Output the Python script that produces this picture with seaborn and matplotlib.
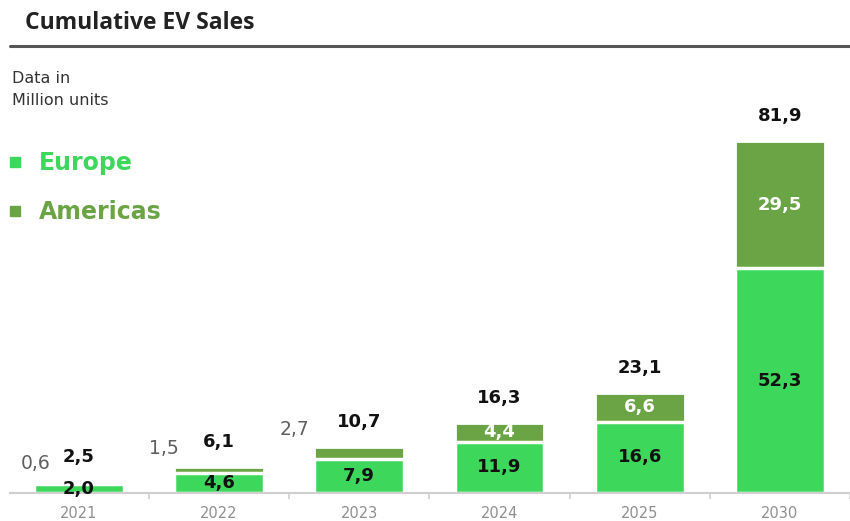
import numpy as np
import seaborn as sns
import matplotlib.pyplot as plt
from matplotlib.lines import Line2D

# Valores (milhões de unidades)
anos = ['2021', '2022', '2023', '2024', '2025', '2030']
europa = [2.0, 4.6, 7.9, 11.9, 16.6, 52.3]
americas = [0.6, 1.5, 2.7, 4.4, 6.6, 29.5]
totais = [2.5, 6.1, 10.7, 16.3, 23.1, 81.9]

cor_europa = '#3dd75b'
cor_americas = '#6aa444'

sns.set_theme(style="white")
plt.rcParams['font.family'] = ['DejaVu Sans']

fig = plt.figure(figsize=(8.5, 5.21), dpi=100)
ax = fig.add_axes([10 / 850, 28 / 521, 840 / 850, 387 / 521])

def fmt(v):
    return f"{v:.1f}".replace('.', ',')

# barra total (cor Américas) e Europa por cima -> empilhado
empilhado = [e + a for e, a in zip(europa, americas)]
sns.barplot(x=anos, y=empilhado, color=cor_americas, saturation=1, width=0.64,
            edgecolor='white', linewidth=2, ax=ax)
sns.barplot(x=anos, y=europa, color=cor_europa, saturation=1, width=0.64,
            edgecolor='white', linewidth=2.5, ax=ax)

ax.set_xlim(-0.49, 5.5)
ax.set_ylim(0, 90)
ax.set_yticks([])
ax.set_xlabel('')
ax.set_ylabel('')
sns.despine(ax=ax, left=True)
ax.spines['bottom'].set_color('#cfcfcf')
ax.spines['bottom'].set_linewidth(1.5)
ax.tick_params(axis='x', which='major', length=0, pad=9, labelsize=10.5, labelcolor='#8f8f8f')
ax.set_xticks(np.arange(len(anos)) + 0.5, minor=True)
ax.tick_params(axis='x', which='minor', length=4, color='#cfcfcf', width=1.2, bottom=True)

# deslocamento horizontal (px) dos rótulos cinzentos das Américas
desloc_am = [-43, -55, -65]

for i in range(len(anos)):
    ax.text(i, europa[i] / 2, fmt(europa[i]), ha='center', va='center',
            fontsize=13, fontweight='bold', color='#111111')
    topo = europa[i] + americas[i]
    ax.annotate(fmt(totais[i]), (i, topo), xytext=(0, 18), textcoords='offset points',
                ha='center', va='center', fontsize=13, fontweight='bold', color='#111111')
    if americas[i] >= 4:
        ax.text(i, europa[i] + americas[i] / 2, fmt(americas[i]), ha='center', va='center',
                fontsize=13, fontweight='bold', color='white')
    else:
        ax.annotate(fmt(americas[i]), (i, topo), xytext=(desloc_am[i] * 0.72, 13),
                    textcoords='offset points', ha='center', va='center',
                    fontsize=13.5, color='#5f5f5f')

# título e linha
fig.text(25 / 850, 1 - 23 / 521, 'Cumulative EV Sales', fontsize=16.5, fontweight='bold',
         va='center', color='#222222', family=['Open Sans', 'DejaVu Sans'])
fig.add_artist(Line2D([10 / 850, 1], [1 - 46 / 521] * 2, transform=fig.transFigure,
                      color='#555555', lw=2.2))
fig.text(12 / 850, 1 - 71 / 521, 'Data in\nMillion units', fontsize=11.5, va='top',
         color='#333333', linespacing=1.55)

# legenda
handles = [Line2D([], [], marker='s', linestyle='none', color=cor_europa, markersize=7.5),
           Line2D([], [], marker='s', linestyle='none', color=cor_americas, markersize=7.5)]
fig.legend(handles, ['Europe', 'Americas'], loc='upper left',
           bbox_to_anchor=(8 / 850, 1 - 151 / 521), frameon=False,
           prop={'weight': 'bold', 'size': 17}, labelcolor=[cor_europa, cor_americas],
           handlelength=0.6, handletextpad=0.7, labelspacing=1.05, borderpad=0,
           borderaxespad=0)

plt.savefig('out.png', dpi=100)
